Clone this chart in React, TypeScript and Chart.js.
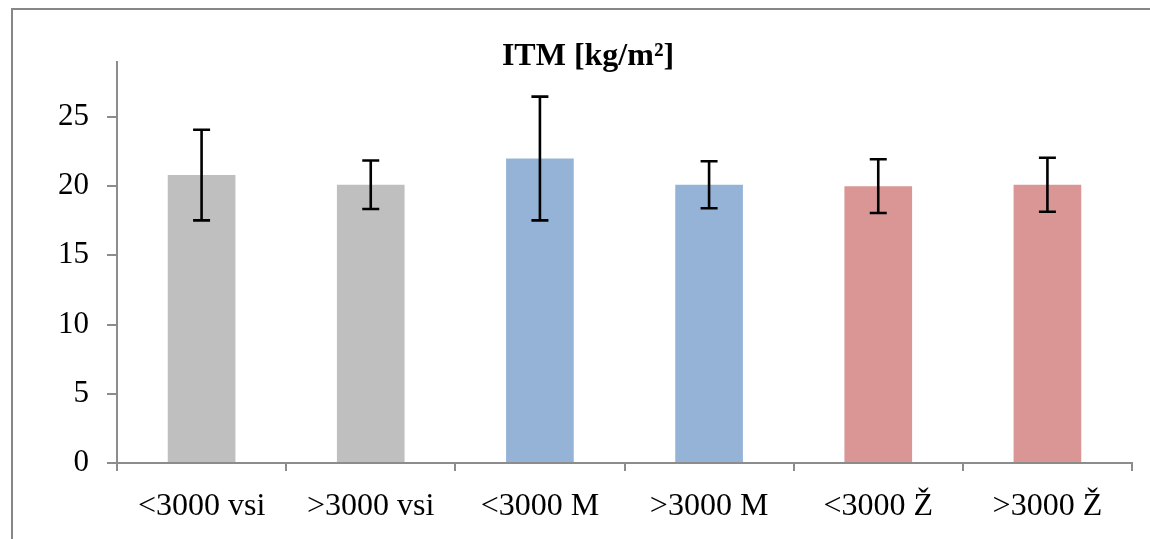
import React, { useEffect, useRef } from "react";
import { Chart, registerables } from "chart.js";

Chart.register(...registerables);

const categories = ["<3000 vsi", ">3000 vsi", "<3000 M", ">3000 M", "<3000 Ž", ">3000 Ž"];
const values = [20.8, 20.1, 22.0, 20.1, 20.0, 20.1];
const errors = [3.27, 1.75, 4.47, 1.7, 1.94, 1.95];
const barColors = ["#BFBFBF", "#BFBFBF", "#95B3D7", "#95B3D7", "#D99694", "#D99694"];
const titleText = "ITM [kg/m²]";
const yMin = 0;
const yMax = 29;
const yStep = 5;

const AXIS_GRAY = "#8c8c8c";
const FONT = "'Liberation Serif', 'Times New Roman', serif";

const framePlugin = {
  id: "frame",
  beforeDraw(chart: any) {
    const ctx = chart.ctx;
    const w = chart.width;
    const h = chart.height;
    ctx.save();
    ctx.strokeStyle = "#878787";
    ctx.lineWidth = 2;
    ctx.beginPath();
    ctx.moveTo(4, h);
    ctx.lineTo(4, 1);
    ctx.lineTo(w, 1);
    ctx.stroke();
    ctx.restore();
  },
};

const errorBarPlugin = {
  id: "errorBars",
  afterDatasetsDraw(chart: any) {
    const ctx = chart.ctx;
    const meta = chart.getDatasetMeta(0);
    const y = chart.scales.y;
    ctx.save();
    ctx.strokeStyle = "#000";
    ctx.lineWidth = 2.6;
    meta.data.forEach((bar: any, i: number) => {
      const v = values[i];
      const e = errors[i];
      const x = bar.x;
      const yt = y.getPixelForValue(v + e);
      const yb = y.getPixelForValue(v - e);
      const hw = 8.5;
      ctx.beginPath();
      ctx.moveTo(x, yt);
      ctx.lineTo(x, yb);
      ctx.moveTo(x - hw, yt);
      ctx.lineTo(x + hw, yt);
      ctx.moveTo(x - hw, yb);
      ctx.lineTo(x + hw, yb);
      ctx.stroke();
    });
    ctx.restore();
  },
};

export default function App() {
  const ref = useRef<HTMLCanvasElement | null>(null);

  useEffect(() => {
    if (!ref.current) return;
    const chart = new Chart(ref.current, {
      type: "bar",
      data: {
        labels: categories,
        datasets: [
          {
            data: values,
            backgroundColor: barColors,
            borderWidth: 0,
            barPercentage: 0.4,
            categoryPercentage: 1.0,
          },
        ],
      },
      options: {
        responsive: false,
        animation: false,
        devicePixelRatio: 1,
        layout: { padding: { left: 36, right: 18, top: 43, bottom: 16 } },
        plugins: {
          legend: { display: false },
          tooltip: { enabled: false },
          title: {
            display: true,
            text: titleText,
            color: "#000",
            font: { family: FONT, size: 32, weight: "bold", lineHeight: 0.33 },
            padding: { top: 0, bottom: 0 },
          },
        },
        scales: {
          x: {
            offset: true,
            grid: {
              offset: true,
              drawOnChartArea: false,
              drawTicks: true,
              tickLength: 8,
              color: AXIS_GRAY,
              lineWidth: 2,
            },
            border: { color: AXIS_GRAY, width: 2 },
            ticks: {
              color: "#000",
              font: { family: FONT, size: 32 },
              padding: 16,
              maxRotation: 0,
              autoSkip: false,
            },
            afterFit(scale: any) {
              scale.height = 60;
            },
          },
          y: {
            min: yMin,
            max: yMax,
            grid: {
              drawOnChartArea: false,
              drawTicks: true,
              tickLength: 10,
              color: AXIS_GRAY,
              lineWidth: 2,
            },
            border: { color: AXIS_GRAY, width: 2 },
            ticks: {
              stepSize: yStep,
              includeBounds: false,
              color: "#000",
              font: { family: FONT, size: 31 },
              padding: 18,
            },
            afterFit(scale: any) {
              scale.width = 73;
            },
          },
        },
      },
      plugins: [framePlugin, errorBarPlugin],
    });
    return () => chart.destroy();
  }, []);

  return (
    <div style={{ position: "fixed", left: 8, top: 8, width: 1142, height: 531 }}>
      <canvas ref={ref} width={1142} height={531} style={{ display: "block", width: 1142, height: 531 }} />
    </div>
  );
}
